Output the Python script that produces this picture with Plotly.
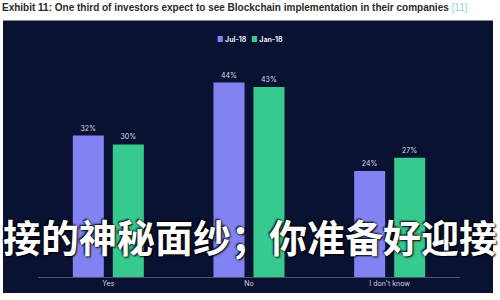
import plotly.graph_objects as go

categories = ["Yes", "No", "I don't know"]
jul18 = [32, 44, 24]
jan18 = [30, 43, 27]
series_names = ["Jul-18", "Jan-18"]
title_text = "Exhibit 11: One third of investors expect to see Blockchain implementation in their companies"
ref_text = "[11]"
overlay_text = "接的神秘面纱；你准备好迎接"

PURPLE = "#8282f2"
GREEN = "#36ca8e"
NAVY = "#0a1232"
colors = [PURPLE, GREEN]

W, H = 500, 300
L, R, T, B = 38, 40, 55.5, 23
pw, ph = W - L - R, H - T - B

def px_x(p):
    return (p - L) / pw

def px_y(p):
    return (H - B - p) / ph

fig = go.Figure()
for name, vals, col in [(series_names[0], jul18, colors[0]), (series_names[1], jan18, colors[1])]:
    fig.add_trace(go.Bar(
        x=categories, y=vals, name=name, marker_color=col, marker_line_width=0,
        texttemplate="%{y}%", textposition="outside",
        textfont=dict(color="#d8dbe8", size=7, family="Inter"),
        cliponaxis=False, showlegend=False,
    ))

legend_html = "&nbsp;&nbsp;&nbsp;".join(
    f"<span style='color:{c}'>■</span> {n}" for n, c in zip(series_names, colors)
)

fig.update_layout(
    width=W, height=H,
    margin=dict(l=L, r=R, t=T, b=B),
    paper_bgcolor="white", plot_bgcolor=NAVY,
    barmode="group", bargap=0.431, bargroupgap=0.225,
    font=dict(family="Inter", color="#d8dbe8", size=7),
    title=dict(
        text=f"<b>{title_text}</b> <span style='color:#8fd9c9'>{ref_text}</span>",
        x=2 / W, xref="container", xanchor="left",
        y=1 - 7.5 / H, yref="container", yanchor="middle",
        font=dict(family="Liberation Sans", size=10, color="#2a2a2a"),
    ),
    xaxis=dict(showline=True, linecolor="#4a5272", linewidth=1, showgrid=False,
               ticks="", tickfont=dict(color="#d0d3e0", size=7)),
    yaxis=dict(range=[0, 50], visible=False, showgrid=False),
    shapes=[dict(type="rect", xref="paper", yref="paper",
                 x0=px_x(3), x1=px_x(493), y0=px_y(293), y1=px_y(20),
                 fillcolor=NAVY, line_width=0, layer="below")],
    annotations=[
        dict(text=f"<b>{legend_html}</b>", xref="paper", yref="paper",
             x=px_x(250), y=px_y(39), xanchor="center", yanchor="middle",
             showarrow=False, font=dict(family="Inter", size=7, color="#e6e8f2")),
        dict(text=f"<b>{overlay_text}</b>", xref="paper", yref="paper",
             x=px_x(250), y=px_y(235), xanchor="center", yanchor="middle",
             showarrow=False,
             font=dict(family="Noto Sans CJK SC", size=38, color="white",
                       shadow="1px 1px 2px #000, -1px -1px 2px #000")),
    ],
)

fig.write_html("out.html")
